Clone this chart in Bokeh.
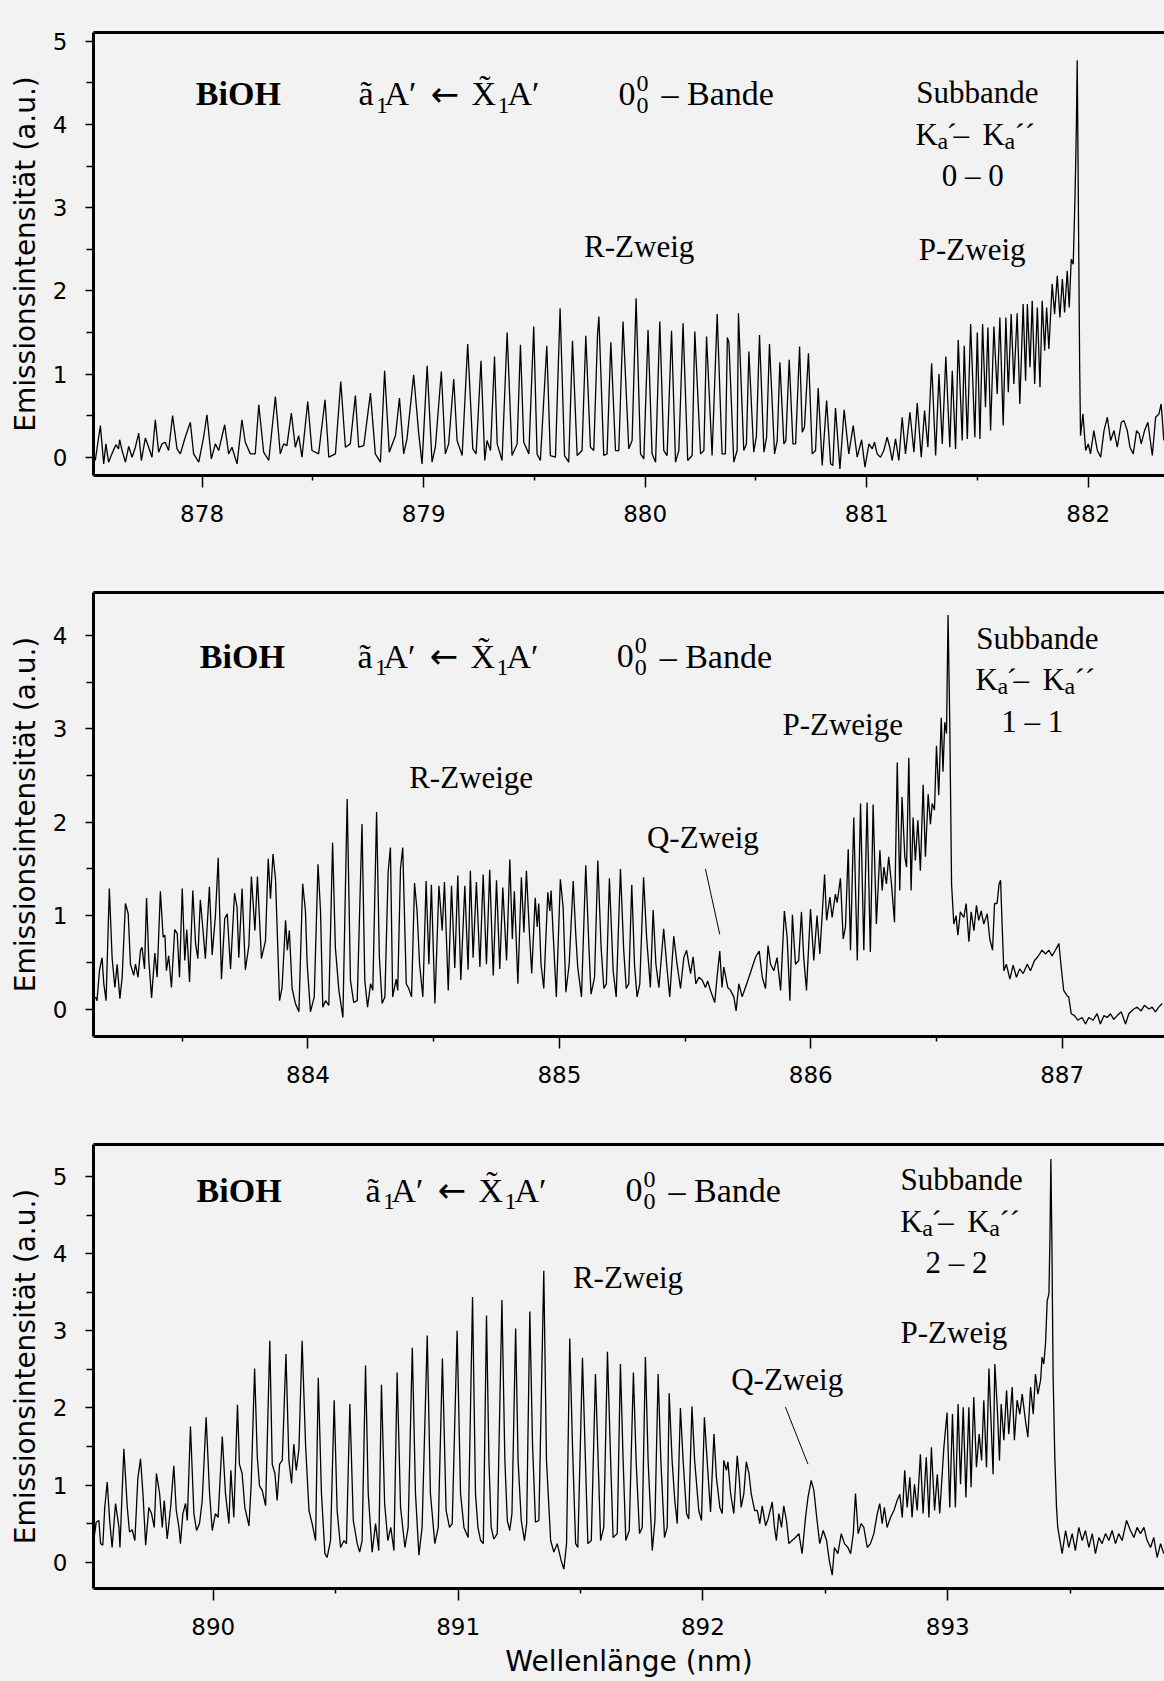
from bokeh.plotting import figure
from bokeh.models import Label, FixedTicker, LinearAxis, Range1d
from bokeh.layouts import column
from bokeh.embed import file_html
from bokeh.resources import INLINE

BG = "#f2f2f2"
SERIF = "Liberation Serif"
SANS = "DejaVu Sans"

# ---------------- data: (wavelength nm, intensity a.u.) ----------------
top_spectrum = [
(877.518,-0.04),(877.541,0.38),(877.556,-0.08),(877.566,0.16),(877.578,-0.06),(877.593,0.04),(877.611,0.15),(877.623,0.10),(877.628,0.21),(877.639,0.08),(877.654,-0.06),(877.669,0.13),(877.684,0.00),(877.699,0.12),(877.714,0.29),(877.726,-0.04),(877.744,0.23),(877.759,0.12),(877.774,0.00),(877.789,0.45),(877.804,0.06),(877.819,0.16),(877.834,0.18),(877.849,0.08),(877.867,0.50),(877.887,0.10),(877.902,0.04),(877.924,0.24),(877.947,0.42),(877.962,0.04),(877.985,-0.06),(878.007,0.24),(878.022,0.51),(878.042,-0.02),(878.060,0.16),(878.075,0.08),(878.102,0.39),(878.120,0.04),(878.135,0.12),(878.158,-0.08),(878.180,0.45),(878.195,0.18),(878.218,0.04),(878.240,0.04),(878.256,0.63),(878.278,0.06),(878.301,-0.04),(878.331,0.73),(878.353,0.04),(878.368,0.16),(878.383,0.14),(878.403,0.53),(878.421,0.12),(878.436,0.26),(878.451,0.00),(878.477,0.67),(878.496,0.08),(878.526,0.04),(878.555,0.69),(878.572,0.00),(878.602,0.04),(878.626,0.91),(878.647,0.12),(878.669,0.16),(878.692,0.74),(878.707,0.12),(878.730,0.14),(878.760,0.77),(878.782,0.04),(878.805,-0.06),(878.824,1.04),(878.845,0.06),(878.873,0.26),(878.891,0.71),(878.910,0.04),(878.925,0.22),(878.955,0.99),(878.978,0.28),(878.993,-0.08),(879.016,1.10),(879.038,-0.06),(879.053,0.12),(879.080,1.03),(879.098,0.04),(879.113,0.16),(879.136,0.94),(879.151,0.20),(879.174,0.02),(879.199,1.36),(879.222,0.10),(879.237,0.04),(879.259,1.16),(879.276,-0.04),
(879.286,0.20),(879.302,0.08),(879.320,1.21),(879.332,0.16),(879.354,-0.04),(879.377,1.50),(879.399,0.02),(879.422,0.16),(879.437,1.35),(879.452,0.18),(879.475,0.04),(879.497,1.57),(879.512,0.04),(879.527,-0.04),(879.556,1.34),(879.572,0.02),(879.595,0.00),(879.616,1.79),(879.636,0.02),(879.655,-0.06),(879.672,1.40),(879.693,0.02),(879.715,0.08),(879.732,1.46),(879.753,0.12),(879.768,0.08),(879.785,1.48),(879.791,1.69),(879.813,0.02),(879.828,0.04),(879.845,1.38),(879.866,0.08),(879.881,0.08),(879.900,1.63),(879.926,0.10),(879.941,0.20),(879.959,1.91),(879.979,0.04),(879.994,-0.02),(880.013,1.53),(880.031,0.04),(880.047,-0.06),(880.066,1.63),(880.084,0.08),(880.099,0.02),(880.119,1.52),(880.137,-0.06),(880.152,0.08),(880.171,1.61),(880.192,-0.04),(880.212,0.02),(880.224,1.51),(880.250,0.04),(880.265,0.08),(880.277,1.45),(880.302,0.02),(880.325,1.72),(880.347,0.04),(880.362,0.04),(880.371,1.44),(880.378,1.38),(880.400,-0.06),(880.415,0.08),(880.421,1.73),(880.445,0.08),(880.457,0.16),(880.468,1.27),(880.490,0.06),(880.502,0.25),(880.516,1.47),(880.536,0.06),(880.548,0.24),(880.561,1.36),(880.584,0.04),(880.596,0.20),(880.608,1.14),(880.626,0.16),(880.635,0.20),(880.650,1.17),(880.667,0.16),(880.679,0.16),(880.697,1.33),(880.709,0.30),(880.719,0.36),(880.737,1.25),(880.754,0.04),(880.769,0.08),(880.781,0.83),(880.799,-0.10),(880.819,0.68),(880.837,-0.08),(880.847,-0.10),(880.859,0.59),(880.879,-0.14),(880.898,0.57),(880.919,0.04),(880.939,0.38),(880.957,0.00),(880.977,0.21),(880.992,-0.12),(881.010,0.16),
(881.025,0.10),(881.035,0.18),(881.047,0.04),(881.062,0.00),(881.077,0.08),(881.092,0.24),(881.104,0.12),(881.115,-0.04),(881.130,0.22),(881.145,-0.04),(881.160,0.48),(881.175,0.04),(881.195,0.54),(881.213,0.06),(881.228,0.65),(881.246,0.00),(881.261,0.56),(881.276,0.12),(881.293,1.13),(881.311,0.02),(881.326,1.00),(881.341,0.16),(881.357,1.21),(881.375,0.12),(881.386,1.04),(881.401,0.10),(881.413,1.41),(881.431,0.20),(881.440,1.34),(881.454,0.22),(881.469,1.60),(881.488,0.24),(881.499,1.50),(881.511,0.22),(881.523,1.60),(881.536,0.60),(881.547,1.56),(881.559,0.32),(881.574,1.57),(881.589,0.76),(881.601,1.68),(881.616,0.38),(881.628,1.68),(881.639,0.78),(881.652,1.72),(881.664,0.88),(881.679,1.73),(881.691,0.64),(881.706,1.84),(881.717,0.92),(881.725,1.84),(881.737,1.08),(881.747,1.88),(881.758,0.88),(881.770,1.80),(881.782,0.84),(881.792,1.88),(881.803,1.28),(881.812,1.80),(881.822,1.30),(881.837,2.08),(881.848,1.72),(881.860,2.18),(881.872,1.68),(881.883,2.14),(881.893,1.74),(881.905,2.24),(881.914,1.80),(881.923,2.38),(881.932,2.32),(881.940,3.12),(881.946,3.93),(881.950,4.77),(881.955,3.12),(881.961,1.12),(881.965,0.26),(881.976,0.52),(881.988,0.08),(882.000,0.16),(882.010,0.04),(882.025,0.32),(882.041,0.08),(882.056,0.00),(882.071,0.32),(882.086,0.48),(882.101,0.20),(882.116,0.32),(882.131,0.12),(882.149,0.42),(882.161,0.44),(882.176,0.32),(882.188,0.12),(882.203,0.04),(882.218,0.32),(882.230,0.28),(882.239,0.16),(882.254,0.32),(882.269,0.42),(882.289,0.02),(882.304,0.48),(882.319,0.52),(882.329,0.64),(882.341,0.20),
]

mid_spectrum = [
(883.155,0.13),(883.161,0.09),(883.171,0.42),(883.181,0.55),(883.188,0.27),(883.197,0.09),(883.210,1.29),(883.221,0.55),(883.232,0.23),(883.241,0.48),(883.252,0.11),(883.261,0.34),(883.274,1.13),(883.285,1.02),(883.294,0.48),(883.307,0.36),(883.314,0.48),(883.324,0.34),(883.334,0.63),(883.340,0.66),(883.350,0.43),(883.358,1.19),(883.367,0.52),(883.378,0.12),(883.391,0.60),(883.400,0.34),(883.413,1.26),(883.424,0.77),(883.431,0.79),(883.437,0.41),(883.446,0.57),(883.457,0.23),(883.470,0.85),(883.480,0.81),(883.489,0.34),(883.500,1.29),(883.510,0.52),(883.518,0.85),(883.529,0.29),(883.542,1.27),(883.553,0.70),(883.562,0.54),(883.572,1.17),(883.582,0.86),(883.592,0.54),(883.608,1.31),(883.619,0.58),(883.632,1.00),(883.643,1.62),(883.656,0.32),(883.669,0.97),(883.679,1.02),(883.692,0.43),(883.708,1.24),(883.718,1.09),(883.725,0.55),(883.738,1.29),(883.751,0.42),(883.765,0.68),(883.775,1.42),(883.789,0.84),(883.799,1.42),(883.815,0.54),(883.831,0.73),(883.842,1.61),(883.851,1.18),(883.861,1.66),(883.871,1.39),(883.887,0.09),(883.897,0.23),(883.911,0.95),(883.918,0.63),(883.926,0.84),(883.937,0.22),(883.950,0.06),(883.964,-0.03),(883.979,1.34),(883.990,1.05),(883.997,0.48),(884.010,-0.03),(884.025,0.13),(884.040,1.55),(884.050,1.05),(884.059,0.02),(884.070,0.09),(884.083,0.04),(884.098,1.78),(884.109,0.66),(884.123,0.20),(884.139,-0.09),(884.156,2.25),(884.169,0.31),(884.182,0.07),(884.196,0.09),(884.215,1.98),(884.226,0.31),(884.237,0.02),(884.249,0.27),(884.258,0.20),(884.273,2.11),(884.284,0.56),(884.295,0.06),(884.306,0.13),(884.319,1.47),(884.328,1.73),(884.337,0.13),(884.351,0.32),(884.357,0.20),(884.368,1.50),(884.377,1.73),(884.391,0.27),(884.401,0.22),(884.412,0.13),(884.424,1.35),(884.434,1.05),(884.444,0.48),(884.457,0.13),(884.470,1.37),(884.481,0.48),(884.491,1.33),(884.505,0.06),(884.521,1.32),(884.534,0.84),(884.543,1.36),(884.558,0.20),(884.571,1.32),(884.584,0.44),(884.596,1.43),(884.608,0.31),(884.624,1.32),(884.637,0.42),
(884.646,1.48),(884.657,0.55),(884.670,1.36),(884.684,0.45),(884.697,1.44),(884.710,0.48),(884.723,1.49),(884.737,0.36),(884.750,1.38),(884.763,0.43),(884.775,1.30),(884.790,0.52),(884.803,1.60),(884.813,0.75),(884.821,1.26),(884.835,0.27),(884.849,1.41),(884.859,0.82),(884.869,1.48),(884.880,0.86),(884.890,0.38),(884.904,1.19),(884.912,0.88),(884.918,1.13),(884.927,0.48),(884.938,0.22),(884.954,1.25),(884.962,1.05),(884.967,1.27),(884.978,0.66),(884.988,0.13),(885.004,1.39),(885.015,1.09),(885.026,0.18),(885.039,0.48),(885.055,1.37),(885.065,0.81),(885.073,0.45),(885.088,0.13),(885.105,1.54),(885.117,0.70),(885.126,0.16),(885.140,0.34),(885.153,1.59),(885.166,0.66),(885.177,0.22),(885.187,0.27),(885.199,1.40),(885.214,0.41),(885.226,0.13),(885.243,1.50),(885.256,0.63),(885.266,0.22),(885.276,0.27),(885.288,1.33),(885.299,0.47),(885.309,0.13),(885.320,0.27),(885.335,1.41),(885.347,0.77),(885.362,0.23),(885.373,1.06),(885.384,0.48),(885.396,0.23),(885.415,0.86),(885.429,0.41),(885.439,0.13),(885.455,0.78),(885.468,0.48),(885.482,0.22),(885.495,0.55),(885.506,0.63),(885.515,0.48),(885.522,0.38),(885.532,0.56),(885.543,0.27),(885.555,0.34),(885.568,0.31),(885.581,0.23),(885.590,0.30),(885.601,0.20),(885.618,0.07),(885.628,0.36),(885.638,0.62),(885.647,0.23),(885.654,0.45),(885.670,0.23),(885.681,0.20),(885.694,0.13),(885.703,-0.02),(885.714,0.27),(885.727,0.13),(885.740,0.23),(885.754,0.34),(885.771,0.48),(885.781,0.56),(885.795,0.62),(885.807,0.34),(885.820,0.22),(885.830,0.68),(885.840,0.48),(885.853,0.41),(885.866,0.55),(885.880,0.20),(885.895,1.05),(885.906,0.77),(885.917,0.09),(885.927,1.01),(885.939,0.48),(885.952,0.52),(885.963,1.04),(885.972,0.55),(885.983,0.20),(885.999,1.07),(886.012,0.52),(886.025,1.00),(886.036,0.59),(886.055,1.44),(886.063,0.95),(886.076,1.20),(886.085,0.98),(886.098,1.23),(886.105,1.14),(886.118,1.40),(886.129,0.75),(886.138,0.88),(886.149,1.71),(886.158,0.63),(886.171,2.05),(886.185,0.52),(886.198,2.20),(886.211,0.63),(886.224,2.21),
(886.237,0.61),(886.248,2.19),(886.261,0.91),(886.275,1.70),(886.284,1.27),(886.291,1.52),(886.301,1.34),(886.310,1.63),(886.321,1.34),(886.333,0.93),(886.344,2.64),(886.354,1.27),(886.363,2.27),(886.374,1.63),(886.381,1.52),(886.390,2.69),(886.399,1.27),(886.407,2.05),(886.416,1.59),(886.426,2.02),(886.436,1.48),(886.447,2.40),(886.456,1.63),(886.467,2.30),(886.476,1.98),(886.483,2.20),(886.492,2.13),(886.500,2.82),(886.509,2.29),(886.519,3.12),(886.526,2.54),(886.533,3.07),(886.540,2.95),(886.546,4.22),(886.553,3.05),(886.560,1.34),(886.569,0.91),(886.578,1.00),(886.585,0.79),(886.595,1.04),(886.609,0.98),(886.618,1.13),(886.629,0.72),(886.638,1.04),(886.649,0.84),(886.659,1.11),(886.668,0.95),(886.678,1.05),(886.688,0.91),(886.702,1.02),(886.712,0.75),(886.723,0.63),(886.731,1.13),(886.741,1.13),(886.749,1.34),(886.755,1.38),(886.761,0.91),(886.768,0.41),(886.778,0.48),(886.792,0.32),(886.805,0.47),(886.818,0.34),(886.831,0.43),(886.845,0.38),(886.861,0.48),(886.874,0.41),(886.890,0.52),(886.903,0.56),(886.920,0.63),(886.934,0.59),(886.947,0.63),(886.960,0.57),(886.973,0.63),(886.987,0.70),(886.996,0.45),(887.006,0.20),(887.020,0.14),(887.026,0.13),(887.036,-0.05),(887.049,-0.07),(887.062,-0.12),(887.079,-0.09),(887.093,-0.16),(887.106,-0.09),(887.123,-0.12),(887.139,-0.05),(887.152,-0.16),(887.166,-0.07),(887.179,-0.09),(887.192,-0.05),(887.205,-0.11),(887.219,-0.07),(887.235,-0.03),(887.252,-0.16),(887.265,-0.05),(887.285,0.00),(887.298,0.02),(887.314,-0.02),(887.327,0.04),(887.345,0.00),(887.358,0.02),(887.371,-0.03),(887.384,0.02),(887.398,0.06),
]

bot_spectrum = [
(889.513,0.30),(889.522,0.52),(889.533,0.54),(889.540,0.24),(889.549,0.22),(889.557,0.71),(889.567,1.04),(889.577,0.54),(889.587,0.19),(889.601,0.76),(889.615,0.45),(889.619,0.19),(889.635,1.47),(889.649,0.71),(889.658,0.39),(889.669,0.42),(889.680,0.28),(889.692,1.08),(889.703,1.34),(889.713,0.89),(889.724,0.22),(889.737,0.71),(889.748,0.63),(889.759,0.45),(889.768,1.15),(889.781,0.89),(889.792,0.45),(889.800,0.80),(889.812,0.30),(889.826,0.71),(889.839,1.25),(889.849,0.67),(889.860,0.45),(889.866,0.24),(889.876,0.63),(889.887,0.76),(889.894,0.54),(889.907,1.76),(889.921,0.63),(889.932,0.41),(889.944,0.50),(889.955,0.80),(889.971,1.88),(889.985,0.89),(889.996,0.41),(890.009,0.63),(890.020,0.58),(890.037,1.63),(890.050,0.89),(890.064,0.50),(890.072,1.19),(890.084,0.58),(890.099,2.04),(890.107,1.27),(890.118,1.15),(890.129,0.71),(890.146,0.47),(890.155,1.01),(890.169,2.51),(890.180,1.36),(890.189,0.99),(890.200,0.93),(890.214,0.73),(890.231,2.87),(890.241,1.27),(890.252,1.15),(890.261,0.80),(890.271,1.27),(890.282,1.32),(890.297,2.70),(890.309,1.32),(890.320,1.02),(890.329,1.53),(890.339,1.19),(890.350,1.47),(890.363,2.87),(890.377,1.53),(890.391,0.67),(890.404,0.50),(890.418,0.28),(890.429,2.39),(890.442,0.89),(890.456,0.11),(890.465,0.06),(890.479,0.28),(890.494,2.10),(890.506,0.67),(890.520,0.19),(890.534,0.28),(890.544,0.24),(890.558,2.05),(890.572,0.54),(890.588,0.24),(890.598,0.13),(890.608,0.28),(890.622,2.55),(890.633,0.89),(890.649,0.13),(890.663,0.50),(890.676,0.15),(890.687,2.30),(890.700,0.76),(890.713,0.28),(890.725,0.45),(890.738,0.15),(890.751,2.46),(890.765,0.71),(890.783,0.19),(890.796,0.45),(890.813,2.78),(890.826,0.89),(890.840,0.09),(890.853,0.45),(890.874,2.94),(890.887,0.89),(890.905,0.24),(890.919,0.45),(890.936,2.64),(890.951,0.67),(890.965,0.45),(890.976,0.50),(890.996,3.00),(891.010,0.89),(891.024,0.45),(891.041,0.32),(891.059,3.44),
(891.071,0.89),(891.081,0.45),(891.092,0.28),(891.103,0.24),(891.116,3.20),(891.126,1.32),(891.135,0.45),(891.146,0.30),(891.160,0.37),(891.179,3.40),(891.191,1.32),(891.201,0.54),(891.211,0.41),(891.220,0.63),(891.235,3.03),(891.245,1.32),(891.258,0.54),(891.271,0.28),(891.280,0.50),(891.293,3.25),(891.304,1.53),(891.316,0.52),(891.330,0.54),(891.350,3.78),(891.361,1.32),(891.378,0.28),(891.391,0.13),(891.405,0.24),(891.421,0.02),(891.432,-0.09),(891.443,0.24),(891.456,2.90),(891.467,1.53),(891.480,0.24),(891.489,0.19),(891.508,2.65),(891.520,1.32),(891.530,0.24),(891.544,0.28),(891.561,2.44),(891.572,1.32),(891.582,0.28),(891.595,0.45),(891.610,2.73),(891.623,1.32),(891.633,0.32),(891.650,0.37),(891.663,2.57),(891.674,1.32),(891.685,0.28),(891.699,0.41),(891.716,2.46),(891.727,1.32),(891.741,0.37),(891.752,0.45),(891.765,2.66),(891.776,1.32),(891.793,0.15),(891.804,0.54),(891.817,2.44),(891.828,1.32),(891.843,0.32),(891.854,0.45),(891.862,2.19),(891.874,1.32),(891.885,0.80),(891.895,0.50),(891.908,2.00),(891.919,1.32),(891.933,0.63),(891.942,0.56),(891.955,2.02),(891.966,1.32),(891.983,0.67),(891.994,0.54),(892.006,1.88),(892.017,1.32),(892.031,0.65),(892.045,1.66),(892.055,1.10),(892.069,0.71),(892.079,0.63),(892.085,1.32),(892.096,1.19),(892.102,1.30),(892.113,0.89),(892.126,0.63),(892.140,1.38),(892.148,1.10),(892.156,0.71),(892.167,0.89),(892.177,1.30),(892.188,1.15),(892.197,0.89),(892.211,0.67),(892.222,0.67),(892.232,0.50),(892.242,0.73),(892.256,0.47),(892.266,0.56),(892.283,0.78),(892.292,0.45),(892.300,0.28),(892.310,0.63),(892.321,0.45),(892.330,0.73),(892.341,0.54),(892.351,0.24),(892.364,0.28),(892.378,0.32),(892.392,0.37),(892.405,0.11),(892.419,0.58),(892.429,0.84),(892.442,1.06),(892.453,0.93),(892.466,0.54),(892.477,0.24),(892.491,0.41),(892.505,0.28),(892.516,0.02),(892.528,-0.17),(892.537,0.19),(892.551,0.11),(892.565,0.37),(892.578,0.24),(892.592,0.19),(892.603,0.11),(892.614,0.37),(892.623,0.89),(892.634,0.37),(892.646,0.50),(892.657,0.45),(892.671,0.19),(892.684,0.24),
(892.698,0.37),(892.712,0.63),(892.722,0.76),(892.732,0.50),(892.741,0.71),(892.752,0.45),(892.766,0.58),(892.780,0.67),(892.793,0.80),(892.804,0.88),(892.814,0.58),(892.824,1.19),(892.834,0.71),(892.845,1.10),(892.854,0.58),(892.864,1.01),(892.875,0.67),(892.888,1.40),(892.899,0.63),(892.912,1.36),(892.923,0.58),(892.933,1.49),(892.946,0.67),(892.957,1.14),(892.967,0.63),(892.984,1.49),(892.997,1.94),(893.008,0.71),(893.019,1.92),(893.031,0.71),(893.042,2.05),(893.052,1.01),(893.063,2.01),(893.074,0.84),(893.086,2.01),(893.095,0.97),(893.106,2.14),(893.117,1.23),(893.128,1.66),(893.138,1.32),(893.147,2.10),(893.158,1.23),(893.168,2.51),(893.177,1.79),(893.185,1.14),(893.192,2.57),(893.202,2.01),(893.211,1.32),(893.218,2.05),(893.229,1.58),(893.240,2.23),(893.249,1.66),(893.263,2.27),(893.272,1.58),(893.283,2.10),(893.294,1.92),(893.304,2.18),(893.317,1.84),(893.327,1.62),(893.338,2.27),(893.349,1.92),(893.358,2.44),(893.368,2.18),(893.379,2.36),(893.385,2.66),(893.392,2.57),(893.399,2.83),(893.406,3.39),(893.413,3.48),(893.417,4.17),(893.421,5.23),(893.425,4.17),(893.430,2.44),(893.437,1.36),(893.444,0.71),(893.449,0.45),(893.458,0.28),(893.467,0.11),(893.481,0.41),(893.494,0.19),(893.508,0.37),(893.521,0.15),(893.535,0.45),(893.549,0.28),(893.562,0.41),(893.576,0.19),(893.590,0.37),(893.603,0.11),(893.617,0.32),(893.630,0.24),(893.644,0.37),(893.658,0.28),(893.671,0.41),(893.685,0.24),(893.698,0.37),(893.712,0.28),(893.730,0.54),(893.746,0.41),(893.760,0.32),(893.773,0.45),(893.787,0.37),(893.801,0.45),(893.814,0.28),(893.828,0.19),(893.841,0.32),(893.855,0.06),(893.869,0.24),(893.882,0.11),
]

top_xticks = [878, 879, 880, 881, 882]
mid_xticks = [884, 885, 886, 887]
bot_xticks = [890, 891, 892, 893]
top_yticks = [0, 1, 2, 3, 4, 5]
mid_yticks = [0, 1, 2, 3, 4]
bot_yticks = [0, 1, 2, 3, 4, 5]

# pointer lines of the "Q-Zweig" labels (nm, a.u.)
mid_q_line_x = [885.581, 885.638]
mid_q_line_y = [1.50, 0.80]
bot_q_line_x = [892.337, 892.429]
bot_q_line_y = [2.01, 1.27]

Y_LABEL = "Emissionsintensität (a.u.)"
X_LABEL = "Wellenlänge (nm)"


def panel(spec, xr, yr, xt, yt, height, btop, bbot, xlabel=None):
    p = figure(width=1164, height=height, x_range=Range1d(*xr), y_range=Range1d(*yr),
               output_backend="svg", toolbar_location=None,
               min_border_left=93, min_border_right=0,
               min_border_top=btop, min_border_bottom=bbot,
               background_fill_color=BG, border_fill_color=BG, outline_line_color=None)
    p.xgrid.visible = False
    p.ygrid.visible = False
    xs = [a for a, b in spec]
    ys = [b for a, b in spec]
    p.line(xs, ys, line_color="black", line_width=1.3)

    xa = p.xaxis[0]
    ya = p.yaxis[0]
    xa.ticker = FixedTicker(ticks=xt, minor_ticks=[xt[0] - 0.5] + [t + 0.5 for t in xt])
    ya.ticker = FixedTicker(ticks=yt, minor_ticks=[t + 0.5 for t in yt])
    for ax in (xa, ya):
        ax.axis_line_width = 3
        ax.axis_line_color = "black"
        ax.major_tick_line_width = 1.5
        ax.minor_tick_line_width = 1.5
        ax.major_tick_line_color = "black"
        ax.minor_tick_line_color = "black"
        ax.major_tick_in = 0
        ax.minor_tick_in = 0
        ax.major_label_text_font = SANS
        ax.major_label_text_font_size = "23px"
        ax.major_label_text_color = "black"
        ax.axis_label_text_font = SANS
        ax.axis_label_text_font_size = "28px"
        ax.axis_label_text_font_style = "normal"
        ax.axis_label_text_color = "black"
    xa.major_tick_out = 12
    xa.minor_tick_out = 5
    xa.major_label_standoff = 17
    ya.major_tick_out = 8
    ya.minor_tick_out = 7
    ya.major_label_standoff = 18
    ya.axis_label = Y_LABEL
    ya.axis_label_standoff = 8
    if xlabel:
        xa.axis_label = xlabel
        xa.axis_label_standoff = 7

    top = LinearAxis(ticker=FixedTicker(ticks=[]), axis_line_width=3, axis_line_color="black",
                     major_tick_out=0, minor_tick_out=0, major_label_text_font_size="0px")
    p.add_layout(top, "above")
    return p


BASE_SHIFT = 0.35  # baseline correction (fraction of font size)


def rich(p, x, y, parts):
    for part in parts:
        txt, dx, dy, size, style = part[:5]
        font = part[5] if len(part) > 5 else SERIF
        p.add_layout(Label(x=x, y=y, x_offset=dx, y_offset=dy + BASE_SHIFT * size, text=txt,
                           text_font=font, text_font_size=f"{size}px",
                           text_font_style=style, text_color="black",
                           text_baseline="alphabetic", text_align="left"))


def ctext(p, x, y, txt, size=31):
    p.add_layout(Label(x=x, y=y, y_offset=BASE_SHIFT * size, text=txt, text_font=SERIF,
                       text_font_size=f"{size}px", text_color="black",
                       text_baseline="alphabetic", text_align="center"))


FORMULA = [("ã", 0, 0, 34, "normal"), ("1", 17.5, -8, 24, "normal"), ("A′", 26, 0, 34, "normal"),
           ("←", 72, 0, 34, "normal", SANS), ("X\u0303", 113, 0, 34, "normal"),
           ("1", 139, -8, 24, "normal"), ("A′", 149, 0, 34, "normal")]
BAND = [("0", 0, 0, 34, "normal"), ("0", 18, 14, 24, "normal"), ("0", 18, -8, 24, "normal"),
        ("– Bande", 43, 0, 34, "normal")]
KA = [("K", 0, 0, 31, "normal"), ("a", 22, -4, 24, "normal"), ("´", 31, 0, 31, "normal"),
      ("–", 38, 0, 31, "normal"), ("K", 67, 0, 31, "normal"), ("a", 89, -4, 24, "normal"),
      ("´´", 99, 0, 31, "normal")]
BIOH = [("BiOH", 0, 0, 34, "bold")]

# ---------------- top panel ----------------
p1 = panel(top_spectrum, (877.51, 882.344), (-0.22, 5.105), top_xticks, top_yticks, 548, 32, 73)
rich(p1, 877.972, 4.226, BIOH)
rich(p1, 878.706, 4.226, FORMULA)
rich(p1, 879.880, 4.226, BAND)
ctext(p1, 881.499, 4.25, "Subbande")
rich(p1, 881.220, 3.75, KA)
ctext(p1, 881.478, 3.26, "0 – 0")
ctext(p1, 881.476, 2.37, "P-Zweig")
ctext(p1, 879.973, 2.40, "R-Zweig")

# ---------------- middle panel ----------------
p2 = panel(mid_spectrum, (883.147, 887.407), (-0.294, 4.46), mid_xticks, mid_yticks, 552, 44, 64)
rich(p2, 883.570, 3.65, BIOH)
rich(p2, 884.197, 3.65, FORMULA)
rich(p2, 885.228, 3.65, BAND)
ctext(p2, 886.901, 3.85, "Subbande")
rich(p2, 886.655, 3.41, KA)
ctext(p2, 886.881, 2.96, "1 – 1")
ctext(p2, 886.127, 2.93, "P-Zweige")
ctext(p2, 884.649, 2.36, "R-Zweige")
ctext(p2, 885.571, 1.72, "Q-Zweig")
p2.line(mid_q_line_x, mid_q_line_y, line_color="black", line_width=1)

# ---------------- bottom panel ----------------
p3 = panel(bot_spectrum, (889.511, 893.885), (-0.342, 5.417), bot_xticks, bot_yticks, 581, 44, 93,
           xlabel=X_LABEL)
rich(p3, 889.932, 4.67, BIOH)
rich(p3, 890.622, 4.67, FORMULA)
rich(p3, 891.684, 4.67, BAND)
ctext(p3, 891.694, 3.55, "R-Zweig")
ctext(p3, 892.344, 2.23, "Q-Zweig")
p3.line(bot_q_line_x, bot_q_line_y, line_color="black", line_width=1)
ctext(p3, 893.056, 4.82, "Subbande")
rich(p3, 892.806, 4.28, KA)
ctext(p3, 893.036, 3.75, "2 – 2")
ctext(p3, 893.025, 2.84, "P-Zweig")

layout = column(p1, p2, p3, spacing=0, background=BG)
html = file_html(layout, INLINE)
html = html.replace("<body>", '<body style="background-color:#f2f2f2;">')
open("out.html", "w").write(html)
